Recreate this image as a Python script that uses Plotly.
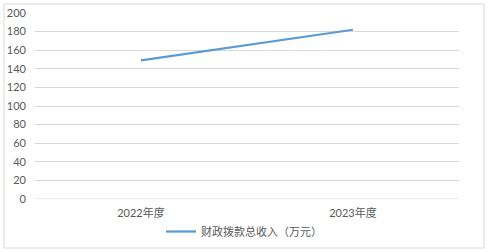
import plotly.graph_objects as go

categories = ["2022年度", "2023年度"]
values = [149, 182]
series_name = "财政拨款总收入（万元）"
y_ticks = [0, 20, 40, 60, 80, 100, 120, 140, 160, 180, 200]

FONT = "Lato, 'Noto Sans CJK SC', sans-serif"

fig = go.Figure()
fig.add_trace(go.Scatter(
    x=categories, y=values, mode="lines", name=series_name,
    line=dict(color="#5B9BD5", width=2.25),
))

fig.update_layout(
    width=488, height=252,
    margin=dict(l=35, r=29, t=13, b=53, autoexpand=False),
    paper_bgcolor="white", plot_bgcolor="white",
    font=dict(family=FONT, size=11, color="#595959"),
    showlegend=True,
    legend=dict(orientation="h", x=0.5, xanchor="center", xref="container",
                y=1 - 217 / 252, yanchor="top", yref="container",
                font=dict(size=11, color="#595959", family=FONT), itemwidth=30),
    xaxis=dict(showgrid=False, showline=False, zeroline=False, ticks="",
               range=[-0.5, 1.5], ticklabelstandoff=6),
    yaxis=dict(range=[0, 200], tickvals=y_ticks, showgrid=True, gridcolor="#D9D9D9",
               gridwidth=1, zeroline=False, showline=False, ticks="",
               ticklabelstandoff=8),
    shapes=[dict(type="rect", xref="paper", yref="paper",
                 x0=-31 / 424, x1=(484 - 35) / 424, y0=-(248 - 199) / 186, y1=(199 - 4) / 186,
                 line=dict(color="#D9D9D9", width=1), layer="below")],
)
fig.add_shape(type="line", xref="paper", yref="y", x0=0, x1=1, y0=0, y1=0,
              line=dict(color="#D9D9D9", width=1), layer="below")

fig.write_html("out.html")
